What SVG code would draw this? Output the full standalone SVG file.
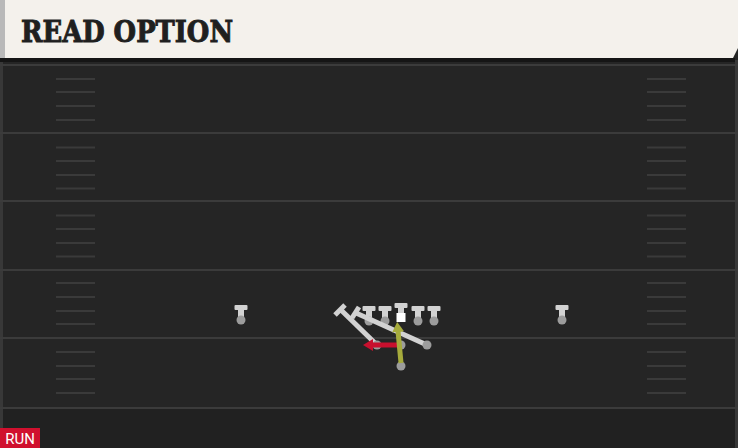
<svg xmlns="http://www.w3.org/2000/svg" width="738" height="448" viewBox="0 0 738 448">
<style>
.yl{stroke:#3b3b3b;stroke-width:2}
.hm{stroke:#3a3a3a;stroke-width:2}
.bar{fill:#d2d2d2}
.dot{fill:#9c9c9c}
.lnk{fill:none;stroke-width:5}
.te{stroke:#d2d2d2;stroke-width:5}
</style>
<defs>
<g id="ply">
<rect x="-6.5" y="-15" width="13" height="5" rx="1" class="bar"/>
<rect x="-3" y="-11" width="6" height="10" class="bar"/>
<circle cx="0" cy="0" r="4.5" class="dot"/>
</g>
<marker id="ar" markerWidth="11" markerHeight="12" refX="1" refY="6" orient="auto" markerUnits="userSpaceOnUse"><path d="M0,0 L10,6 L0,12 z" fill="#c8102e"/></marker>
<marker id="ag" markerWidth="11" markerHeight="12" refX="1" refY="6" orient="auto" markerUnits="userSpaceOnUse"><path d="M0,0 L10,6 L0,12 z" fill="#a6ab3c"/></marker>
</defs>
<rect width="738" height="448" fill="#252525"/>
<rect x="0" y="408" width="738" height="40" fill="#212121"/>
<rect x="0" y="60" width="3" height="388" fill="#383838"/>
<rect x="735" y="60" width="3" height="388" fill="#383838"/>
<g id="field">
<line class="yl" x1="0" y1="65" x2="738" y2="65"/>
<line class="yl" x1="0" y1="133" x2="738" y2="133"/>
<line class="yl" x1="0" y1="201" x2="738" y2="201"/>
<line class="yl" x1="0" y1="270" x2="738" y2="270"/>
<line class="yl" x1="0" y1="338" x2="738" y2="338"/>
<line class="yl" x1="0" y1="408" x2="738" y2="408"/>
<g id="hashL">
<path class="hm" d="M56,79H95M56,92H95M56,106H95M56,120H95M56,147.5H95M56,161H95M56,175H95M56,188.5H95M56,215.5H95M56,229H95M56,243H95M56,256.5H95M56,283H95M56,297H95M56,311H95M56,324H95M56,352H95M56,366H95M56,379H95M56,393H95"/>
</g>
<use href="#hashL" transform="translate(591,0)"/>
</g>
<g id="header">
<path d="M0,0H738V48L733,58H0Z" fill="#f4f1ec"/>
<rect x="0" y="0" width="5" height="58" fill="#b9b9b9"/>
<rect x="0" y="58" width="735" height="4" fill="#151515"/>
<text x="21" y="42" font-family="DejaVu Serif, serif" font-weight="bold" font-size="29" fill="#1f1f1f" stroke="#1f1f1f" stroke-width="1" textLength="212" lengthAdjust="spacingAndGlyphs">READ OPTION</text>
</g>
<g id="run-label">
<rect x="0" y="428" width="40" height="20" fill="#d0102e"/>
<text x="20" y="444" font-family="Roboto, 'Liberation Sans', sans-serif" font-size="15" fill="#ffffff" text-anchor="middle">RUN</text>
</g>
<g id="wr-left"><use href="#ply" x="241" y="320"/></g>
<g id="wr-right"><use href="#ply" x="562" y="320"/></g>
<g id="lt"><use href="#ply" x="369" y="321"/></g>
<g id="lg"><use href="#ply" x="385" y="321"/></g>
<g id="center">
<rect x="394.5" y="303" width="13" height="5" rx="1" class="bar"/>
<rect x="398" y="306" width="6" height="8" class="bar"/>
<rect x="396.5" y="313" width="9" height="9" fill="#ffffff"/>
</g>
<g id="rg"><use href="#ply" x="418" y="321"/></g>
<g id="rt"><use href="#ply" x="434" y="321"/></g>
<g id="te1">
<line x1="341" y1="310" x2="377" y2="345" class="te"/>
<line x1="335" y1="315" x2="345" y2="305" class="te"/>
<circle cx="377" cy="345" r="4.5" class="dot"/>
</g>
<g id="te2">
<line x1="356" y1="313" x2="427" y2="345" class="te"/>
<line x1="352" y1="318" x2="359" y2="307" class="te"/>
<circle cx="427" cy="345" r="4.5" class="dot"/>
</g>
<g id="qb"><circle cx="401" cy="345" r="4.5" class="dot"/></g>
<g id="rb"><circle cx="401" cy="366" r="4.5" class="dot"/></g>
<g id="connectors">
<path class="lnk" d="M401,345H372" stroke="#c8102e" marker-end="url(#ar)"/>
<path class="lnk" d="M401,363L398,331" stroke="#a6ab3c" marker-end="url(#ag)"/>
</g>
</svg>
